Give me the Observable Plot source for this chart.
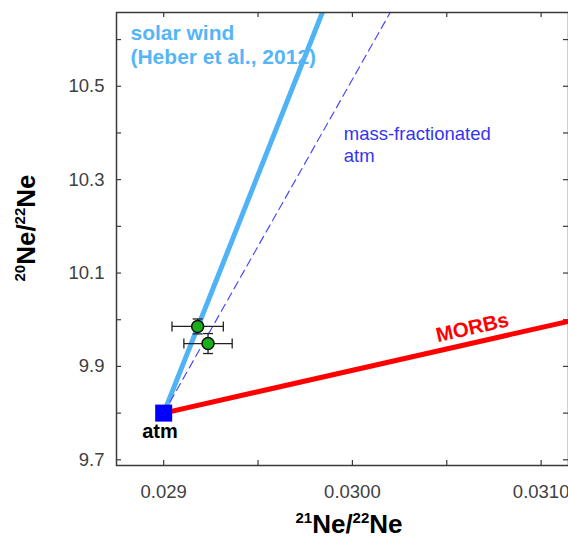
<!DOCTYPE html>
<html><head><meta charset="utf-8">
<script src="https://cdn.jsdelivr.net/npm/d3@7"></script>
<script src="https://cdn.jsdelivr.net/npm/@observablehq/plot@0.6"></script>
<style>body{margin:0;background:#fff} #chart svg{display:block}</style>
</head><body><div id="chart"></div>
<script>
// ---- data ----
const atmX = 0.0290, atmY = 9.80;
const solarWindX = [0.0290, 0.0329];
const solarWindY = [9.80, 13.78];
const massFracX = [0.0290, 0.03022];
const massFracY = [9.80, 10.672];
const morbX = [0.0290, 0.03115];
const morbY = [9.80, 9.997];
const samplesX = [0.02918, 0.029235];
const samplesY = [9.9856, 9.949];
const samplesXErr = [0.000136, 0.000128];
const samplesYErr = [0.016, 0.0214];
const xTicks = [0.0290, 0.0295, 0.0300, 0.0305, 0.0310];
const xLabelTicks = [0.0290, 0.0300, 0.0310];
const xTickLabels = ["0.029", "0.0300", "0.0310"];
const yTicks = [9.7, 9.8, 9.9, 10.0, 10.1, 10.2, 10.3, 10.4, 10.5, 10.6];
const yLabelTicks = [9.7, 9.9, 10.1, 10.3, 10.5];
const yTickLabels = ["9.7", "9.9", "10.1", "10.3", "10.5"];
const xDomain = [0.02875, 0.031145];
const yDomain = [9.6878, 10.658];
// annotation anchors (data units)
const labelTexts = ["solar wind\n(Heber et al., 2012)", "mass-fractionated\natm", "MORBs", "atm"];
const labelX = [0.028824, 0.029954, 0.030636, 0.02898];
const labelY = [10.590, 10.3766, 9.9828, 9.7608];

// ---- build tables ----
const lineOf = (xs, ys) => xs.map((x, i) => ({x, y: ys[i]}));
const samples = samplesX.map((x, i) => ({x, y: samplesY[i], xe: samplesXErr[i], ye: samplesYErr[i]}));
const labels = labelTexts.map((t, i) => ({t, x: labelX[i], y: labelY[i]}));

const W = 568, H = 538, mL = 116, mR = 0, mT = 12, mB = 73;
const iW = W - mL - mR, iH = H - mT - mB;
const tick = 5;
const axisColor = "#3a3a3a";
const font = "'Liberation Sans', Arial, sans-serif";

const vCap = {draw(ctx, size) { const r = Math.sqrt(size / Math.PI); ctx.moveTo(0, -r); ctx.lineTo(0, r); }};
const hCap = {draw(ctx, size) { const r = Math.sqrt(size / Math.PI); ctx.moveTo(-r, 0); ctx.lineTo(r, 0); }};

const chart = Plot.plot({
  width: W, height: H,
  marginLeft: mL, marginRight: mR, marginTop: mT, marginBottom: mB,
  style: {fontFamily: font, background: "#fff", overflow: "visible"},
  x: {domain: xDomain, axis: null},
  y: {domain: yDomain, axis: null},
  marks: [
    // ticks (inward) on all four sides
    Plot.ruleX(xTicks, {x: d => d, insetTop: iH - tick, stroke: axisColor, strokeWidth: 1.2}),
    Plot.ruleX(xTicks, {x: d => d, insetBottom: iH - tick, stroke: axisColor, strokeWidth: 1.2}),
    Plot.ruleY(yTicks, {y: d => d, insetRight: iW - tick, stroke: axisColor, strokeWidth: 1.2}),
    Plot.ruleY(yTicks, {y: d => d, insetLeft: iW - tick, stroke: axisColor, strokeWidth: 1.2}),
    // tick labels
    Plot.text(xLabelTicks, {x: d => d, frameAnchor: "bottom", lineAnchor: "top", dy: 19,
      text: (d, i) => xTickLabels[i], fontSize: 18.5, fill: "#404040"}),
    Plot.text(yLabelTicks, {y: d => d, frameAnchor: "left", textAnchor: "end", dx: -12,
      text: (d, i) => yTickLabels[i], fontSize: 18.5, fill: "#404040"}),
    // lines
    Plot.line(lineOf(morbX, morbY), {x: "x", y: "y", stroke: "#ff0000", strokeWidth: 5, strokeLinecap: "butt", clip: true}),
    Plot.line(lineOf(solarWindX, solarWindY), {x: "x", y: "y", stroke: "#4fb3f6", strokeWidth: 5, strokeLinecap: "butt", clip: true}),
    Plot.line(lineOf(massFracX, massFracY), {x: "x", y: "y", stroke: "#4a4aff", strokeWidth: 1.2, strokeDasharray: "8,5", clip: true}),
    // error bars
    Plot.link(samples, {x1: d => d.x - d.xe, x2: d => d.x + d.xe, y1: "y", y2: "y", stroke: "#222", strokeWidth: 1.3}),
    Plot.link(samples, {x1: "x", x2: "x", y1: d => d.y - d.ye, y2: d => d.y + d.ye, stroke: "#222", strokeWidth: 1.3}),
    Plot.dot(samples, {x: d => d.x - d.xe, y: "y", symbol: vCap, r: 5, stroke: "#222", strokeWidth: 1.3}),
    Plot.dot(samples, {x: d => d.x + d.xe, y: "y", symbol: vCap, r: 5, stroke: "#222", strokeWidth: 1.3}),
    Plot.dot(samples, {x: "x", y: d => d.y - d.ye, symbol: hCap, r: 5, stroke: "#222", strokeWidth: 1.3}),
    Plot.dot(samples, {x: "x", y: d => d.y + d.ye, symbol: hCap, r: 5, stroke: "#222", strokeWidth: 1.3}),
    Plot.dot(samples, {x: "x", y: "y", r: 6, fill: "#1aaf1a", stroke: "#111", strokeWidth: 1.5}),
    // atm square
    Plot.dot([{x: atmX, y: atmY}], {x: "x", y: "y", symbol: "square", r: 9.6, fill: "#0000ff", stroke: "none"}),
    // annotations
    Plot.text(labels.slice(0, 1), {x: "x", y: "y", text: "t", textAnchor: "start", lineHeight: 1.15, fontSize: 21, fontWeight: "bold", fill: "#55b5f7"}),
    Plot.text(labels.slice(1, 2), {x: "x", y: "y", text: "t", textAnchor: "start", lineHeight: 1.2, fontSize: 18.5, fill: "#3535f0"}),
    Plot.text(labels.slice(2, 3), {x: "x", y: "y", text: "t", rotate: -12.7, fontSize: 20.5, fontWeight: "bold", fill: "#ff0000"}),
    Plot.text(labels.slice(3, 4), {x: "x", y: "y", text: "t", fontSize: 20, fontWeight: "bold", fill: "#000"}),
    Plot.frame({stroke: axisColor, strokeWidth: 1.5})
  ]
});
document.getElementById("chart").appendChild(chart);

// axis titles with superscripts
const svg = d3.select(chart);
function title(sel, parts) {
  parts.forEach(([txt, sup]) => {
    sel.append("tspan").attr("font-size", 15).attr("dy", -10).text(sup);
    sel.append("tspan").attr("font-size", 26).attr("dy", 10).text(txt);
  });
}
const xt = svg.append("text").attr("x", 349).attr("y", 533).attr("text-anchor", "middle")
  .attr("font-family", font).attr("font-weight", "bold").attr("fill", "#000");
title(xt, [["Ne/", "21"], ["Ne", "22"]]);
const yt = svg.append("text").attr("transform", "translate(35,228) rotate(-90)").attr("text-anchor", "middle")
  .attr("font-family", font).attr("font-weight", "bold").attr("fill", "#000");
title(yt, [["Ne/", "20"], ["Ne", "22"]]);
</script></body></html>
